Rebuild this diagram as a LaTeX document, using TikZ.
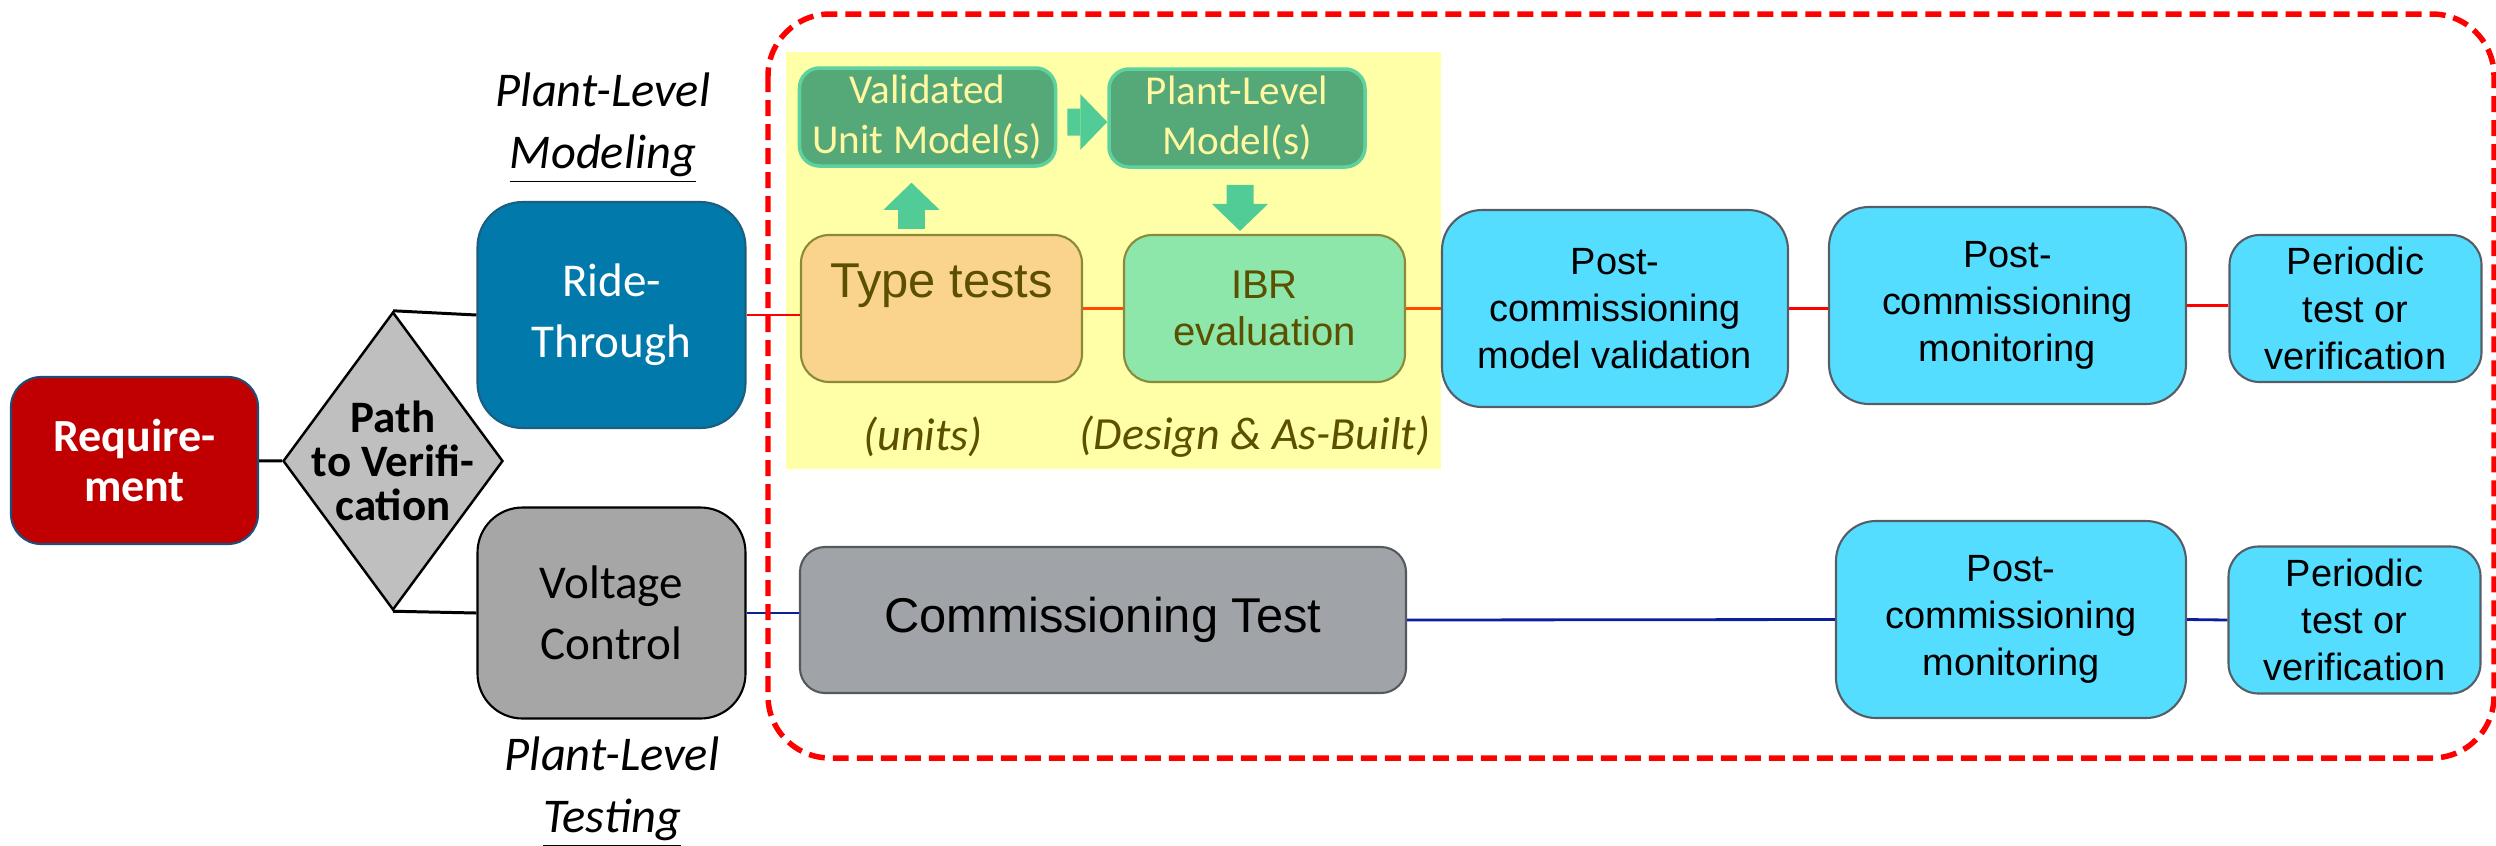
\documentclass[tikz,border=0pt]{standalone}
\usepackage{fontspec}
\setmainfont{Carlito}
\newfontfamily\arialfont{Liberation Sans}
\usetikzlibrary{shapes.geometric, arrows.meta}

\definecolor{reqred}{HTML}{C00000}
\definecolor{reqedge}{HTML}{1F4E79}
\definecolor{gategray}{HTML}{BFBFBF}
\definecolor{rideblue}{HTML}{0279AB}
\definecolor{rideedge}{HTML}{1B5E80}
\definecolor{voltgray}{HTML}{A6A6A6}
\definecolor{hilite}{HTML}{FFFFA8}
\definecolor{modelgreen}{HTML}{55A877}
\definecolor{modeledge}{HTML}{5DD29E}
\definecolor{modeltext}{HTML}{FFF8A0}
\definecolor{blockgreen}{HTML}{52CC96}
\definecolor{typeorange}{HTML}{FAD38C}
\definecolor{ibrgreen}{HTML}{8DE6AA}
\definecolor{oliveedge}{HTML}{8A8A3A}
\definecolor{olivetext}{HTML}{5A5000}
\definecolor{postcyan}{HTML}{55DDFF}
\definecolor{postedge}{HTML}{555E66}
\definecolor{commgray}{HTML}{A0A3A8}
\definecolor{commedge}{HTML}{55595E}
\definecolor{linkred}{HTML}{FF0000}
\definecolor{linkorange}{HTML}{FF4A00}
\definecolor{linkblue}{HTML}{0A1F9C}

\begin{document}
\begin{tikzpicture}[
		block/.style={rectangle, align=center, inner sep=0pt, line width=0.6pt},
		reqbox/.style={block, fill=reqred, draw=reqedge, text=white, rounded corners=0.3cm, minimum width=2.47cm, minimum height=1.67cm, font=\bfseries\fontsize{13.1}{14.2}\selectfont},
		gatebox/.style={diamond, fill=gategray, draw=black, line width=0.7pt, inner sep=0pt, minimum width=2.2cm, minimum height=2.98cm},
		pathtext/.style={align=center, inner sep=0pt, font=\bfseries\fontsize{12.8}{12.5}\selectfont},
		pathbox/.style={block, rounded corners=0.45cm, minimum width=2.68cm, font=\fontsize{13.4}{17.4}\selectfont},
		modelbox/.style={block, fill=modelgreen, draw=modeledge, line width=1pt, text=modeltext, rounded corners=0.2cm, minimum width=2.56cm, minimum height=0.98cm, font=\fontsize{11.7}{14.2}\selectfont},
		testbox/.style={block, draw=oliveedge, text=olivetext, rounded corners=0.28cm, minimum width=2.81cm, minimum height=1.47cm},
		postbox/.style={block, fill=postcyan, draw=postedge, rounded corners=0.4cm, minimum height=1.97cm, font=\arialfont\fontsize{10.8}{13.4}\selectfont},
		checkbox/.style={block, fill=postcyan, draw=postedge, rounded corners=0.3cm, minimum width=2.52cm, minimum height=1.47cm, font=\arialfont\fontsize{10.8}{13.4}\selectfont},
		levelnote/.style={align=center, inner sep=0pt, font=\itshape\fontsize{13.8}{17.6}\selectfont},
		remark/.style={inner sep=0pt, text=olivetext, font=\itshape\fontsize{13.1}{15}\selectfont},
		blacklink/.style={draw=black, line width=0.85pt},
		redlink/.style={draw=linkred, line width=0.7pt},
		orangelink/.style={draw=linkorange, line width=0.7pt},
		bluelink/.style={draw=linkblue, line width=0.8pt},
		bigarrow/.style={draw=blockgreen, line width=0.27cm, -{Triangle[width=0.56cm, length=0.27cm, line width=0pt]}}
	]
	\useasboundingbox (0, 0) rectangle (24.96, -8.45);
	\fill[hilite] (7.86, -0.52) rectangle (14.41, -4.69);

	\node[reqbox] at (1.345, -4.605) (req) {Require-\\ment};
	\node[gatebox, label={[pathtext]center:{Path\\to Verifi-\\cation}}] at (3.93, -4.61) (gate) {};
	\node[pathbox, fill=rideblue, draw=rideedge, text=white, minimum height=2.26cm] at (6.115, -3.15) (ride) {Ride-\\Through};
	\node[pathbox, fill=voltgray, draw=black, minimum height=2.11cm] at (6.115, -6.13) (volt) {Voltage\\Control};
	\node[levelnote] at (6.03, -1.28) (modeling) {Plant-Level\\\underline{Modeling}};
	\node[levelnote] at (6.12, -7.925) (testing) {Plant-Level\\\underline{Testing}};

	\node[modelbox] at (9.275, -1.17) (unit) {Validated\\Unit Model(s)};
	\node[modelbox] at (12.37, -1.18) (plant) {Plant-Level\\Model(s)};
	\node[testbox, fill=typeorange, font=\arialfont\fontsize{13.9}{16}\selectfont, text height=0.35cm, text depth=0.58cm] at (9.415, -3.085) (tt) {Type tests};
	\node[testbox, fill=ibrgreen, font=\arialfont\fontsize{11.4}{13.4}\selectfont] at (12.645, -3.085) (ibr) {IBR\\evaluation};
	\node[remark] at (9.23, -4.37) (units) {(units)};
	\node[remark] at (12.55, -4.37) (design) {(Design \& As-Built)};

	\node[postbox, minimum width=3.46cm] at (16.15, -3.085) (valid) {Post-\\commissioning\\model validation};
	\node[postbox, minimum width=3.57cm] at (20.075, -3.055) (monitor) {Post-\\commissioning\\monitoring};
	\node[checkbox] at (23.555, -3.085) (periodic) {Periodic\\test or\\verification};
	\node[block, fill=commgray, draw=commedge, rounded corners=0.25cm, minimum width=6.06cm, minimum height=1.46cm, font=\arialfont\fontsize{13.9}{16}\selectfont] at (11.03, -6.2) (commission) {Commissioning Test};
	\node[postbox, minimum width=3.5cm] at (20.11, -6.195) (monitorlow) {Post-\\commissioning\\monitoring};
	\node[checkbox] at (23.545, -6.2) (periodiclow) {Periodic\\test or\\verification};

	\path
	(req) edge[blacklink] (gate)
	(gate.north) edge[blacklink] (ride.west)
	(gate.south) edge[blacklink] (volt.west)
	(ride.east) edge[redlink] (ride.east -| tt.west)
	(tt.east) edge[orangelink] (ibr.west)
	(ibr.east) edge[orangelink] (valid.west)
	(valid.east) edge[redlink] (valid.east -| monitor.west)
	(monitor.east) edge[redlink] (monitor.east -| periodic.west)
	(volt.east) edge[bluelink] (volt.east -| commission.west)
	(commission.east) edge[bluelink] (monitorlow.west)
	(monitorlow.east) edge[bluelink] (periodiclow.west);

	\draw[bigarrow] ([xshift=-0.3cm, yshift=0.05cm]tt.north) -- ([xshift=-0.16cm, yshift=-0.15cm]unit.south);
	\draw[bigarrow] ([xshift=0.1cm, yshift=-0.05cm]unit.east) -- ([yshift=-0.04cm]plant.west);
	\draw[bigarrow] ([xshift=0.03cm, yshift=-0.16cm]plant.south) -- ([xshift=-0.245cm, yshift=0.03cm]ibr.north);

	\draw[linkred, line width=1.56pt, dash pattern=on 4.55pt off 2.28pt, rounded corners=0.62cm] (7.68, -0.14) rectangle (24.94, -7.58);
\end{tikzpicture}
\end{document}
